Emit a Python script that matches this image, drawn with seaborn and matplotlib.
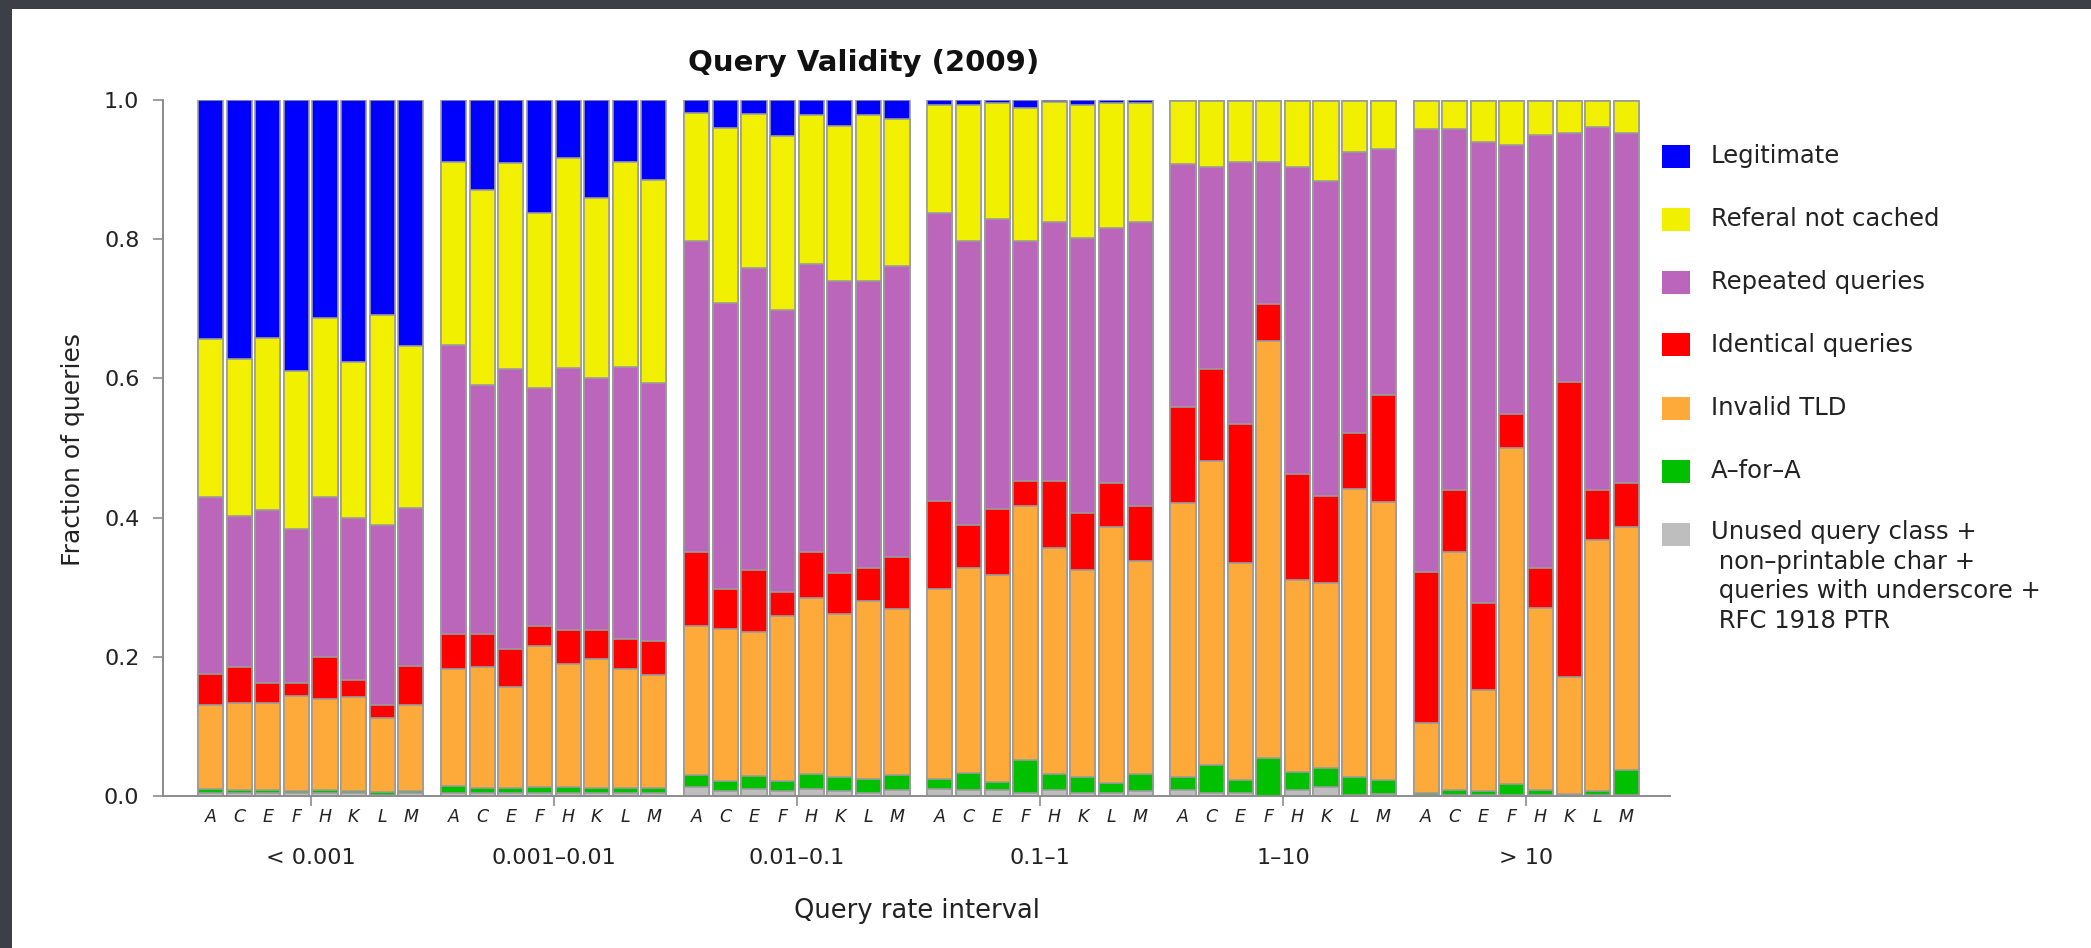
import numpy as np
import pandas as pd
import seaborn as sns
import matplotlib.pyplot as plt
from matplotlib.patches import Rectangle
from matplotlib.transforms import blended_transform_factory


servers = ["A", "C", "E", "F", "H", "K", "L", "M"]
intervals = ["< 0.001", "0.001\u20130.01", "0.01\u20130.1", "0.1\u20131", "1\u201310", "> 10"]

categories = ["Legitimate", "Referal not cached", "Repeated queries", "Identical queries",
              "Invalid TLD", "A\u2013for\u2013A",
              "Unused query class +\n non\u2013printable char +\n queries with underscore +\n RFC 1918 PTR"]
colors = ["#0000ff", "#f0f000", "#bb66bb", "#ff0000", "#fdaa3a", "#00c000", "#bebebe"]

# fraction of each query class, one row per rate interval, one column per root server
legit = [[.344, .372, .342, .389, .313, .376, .309, .354],
         [.089, .130, .090, .162, .084, .141, .089, .115],
         [.019, .040, .020, .052, .022, .038, .022, .027],
         [.007, .007, .005, .011, .003, .007, .005, .005],
         [.001, .001, .001, .001, .001, .001, .001, .001],
         [.001, .001, .001, .001, .001, .001, .001, .001]]
referral = [[.227, .226, .247, .227, .258, .225, .301, .232],
            [.263, .279, .297, .252, .301, .259, .294, .292],
            [.184, .251, .222, .250, .213, .222, .238, .211],
            [.156, .196, .166, .192, .172, .191, .179, .170],
            [.091, .095, .088, .088, .095, .115, .073, .070],
            [.041, .041, .059, .063, .050, .046, .038, .046]]
repeated = [[.254, .216, .248, .221, .229, .232, .259, .227],
            [.415, .358, .402, .342, .377, .362, .391, .371],
            [.447, .412, .433, .405, .415, .420, .412, .418],
            [.413, .407, .417, .344, .372, .395, .367, .408],
            [.349, .290, .377, .204, .441, .453, .404, .353],
            [.636, .519, .663, .387, .621, .358, .521, .504]]
identical = [[.044, .052, .029, .020, .061, .025, .019, .056],
             [.051, .047, .055, .028, .048, .041, .044, .048],
             [.106, .057, .089, .034, .065, .059, .048, .075],
             [.126, .062, .094, .036, .096, .082, .063, .079],
             [.138, .132, .199, .053, .153, .125, .081, .153],
             [.217, .089, .124, .049, .058, .424, .072, .062]]
invalid_tld = [[.121, .126, .126, .136, .130, .135, .106, .124],
               [.167, .174, .144, .203, .177, .185, .170, .162],
               [.214, .218, .207, .237, .254, .233, .255, .239],
               [.273, .295, .298, .365, .325, .298, .367, .306],
               [.394, .437, .312, .600, .275, .266, .413, .400],
               [.100, .342, .146, .483, .262, .168, .361, .350]]
a_for_a = [[.005, .004, .004, .003, .005, .003, .004, .003],
           [.010, .008, .008, .009, .008, .008, .008, .008],
           [.017, .015, .019, .015, .021, .021, .020, .021],
           [.015, .025, .012, .047, .024, .022, .014, .025],
           [.019, .040, .018, .054, .026, .027, .026, .020],
           [.004, .007, .006, .016, .007, .002, .006, .036]]
unused = [[.005, .004, .004, .004, .004, .004, .002, .004],
          [.005, .004, .004, .004, .005, .004, .004, .004],
          [.013, .007, .010, .007, .010, .007, .005, .009],
          [.010, .008, .008, .005, .008, .005, .005, .007],
          [.008, .005, .005, .000, .009, .013, .002, .003],
          [.001, .001, .001, .001, .001, .001, .001, .001]]

GROUP_STEP = 8.5
W, H = 2091, 948

if __name__ == "__main__":
    sns.set_style("white")
    plt.rcParams['font.family'] = ['DejaVu Sans']

    shares = np.array([legit, referral, repeated, identical, invalid_tld, a_for_a, unused], dtype=float)
    shares = shares / shares.sum(axis=0)
    # top of each segment, stacking from the bottom class (unused) upwards
    tops = np.cumsum(shares[::-1], axis=0)[::-1]

    pos = np.array([[g * GROUP_STEP + i for i in range(len(servers))] for g in range(len(intervals))])

    fig = plt.figure(figsize=(W / 100, H / 100), dpi=100)
    fig.patch.set_facecolor("#3c3f45")
    fig.add_artist(Rectangle((12 / W, 0), 1, 939 / H, transform=fig.transFigure,
                             facecolor="white", edgecolor="none", zorder=-1))

    ax = fig.add_axes([163 / W, (H - 796) / H, (1670 - 163) / W, 696 / H])

    for k in range(len(categories)):
        df = pd.DataFrame({"pos": pos.ravel(), "top": tops[k].ravel()})
        sns.barplot(data=df, x="pos", y="top", native_scale=True, width=0.88,
                    color=colors[k], saturation=1, edgecolor="#9c9c9c", linewidth=1.2,
                    errorbar=None, ax=ax)

    ax.set_xlim((163 - 210.6) / 28.6, (1670 - 210.6) / 28.6)
    ax.set_ylim(0, 1)
    ax.set_xlabel("")
    ax.set_ylabel("")

    for s in ["top", "right"]:
        ax.spines[s].set_visible(False)
    for s in ["left", "bottom"]:
        ax.spines[s].set_color("#8c8c8c")
        ax.spines[s].set_linewidth(1.4)

    ax.set_yticks(np.arange(0, 1.01, 0.2))
    ax.set_yticklabels([f"{v:.1f}" for v in np.arange(0, 1.01, 0.2)])
    ax.tick_params(axis="y", length=7, width=1.2, color="#8c8c8c", pad=10,
                   labelsize=16, labelcolor="#222222", left=True)

    ax.set_xticks(pos.ravel())
    ax.set_xticklabels(servers * len(intervals), fontstyle="italic")
    ax.tick_params(axis="x", which="major", length=0, pad=9, labelsize=12.5, labelcolor="#222222")
    ax.set_xticks(pos.mean(axis=1), minor=True)
    ax.tick_params(axis="x", which="minor", length=7, width=1.2, color="#8c8c8c", bottom=True)

    trans = blended_transform_factory(ax.transData, ax.transAxes)
    for g, name in enumerate(intervals):
        ax.text(pos[g].mean(), -62 / 696, name, transform=trans, ha="center", va="center",
                fontsize=16, color="#222222")

    fig.text(864 / W, 1 - 63 / H, "Query Validity (2009)", ha="center", va="center",
             fontsize=21, fontweight="bold", color="#111111")
    fig.text(917 / W, 1 - 911 / H, "Query rate interval", ha="center", va="center",
             fontsize=18.5, color="#222222")
    fig.text(73 / W, 1 - 449 / H, "Fraction of queries", ha="center", va="center",
             rotation=90, fontsize=18, color="#222222")

    # legend
    for k, (name, c) in enumerate(zip(categories, colors)):
        yc = 156 + 63 * k
        fig.add_artist(Rectangle((1662 / W, 1 - (yc + 11.5) / H), 28 / W, 23 / H,
                                 transform=fig.transFigure, facecolor=c, edgecolor="none"))
        if "\n" in name:
            fig.text(1711 / W, 1 - (yc - 14) / H, name, ha="left", va="top",
                     fontsize=17.5, color="#222222", linespacing=1.3)
        else:
            fig.text(1711 / W, 1 - yc / H, name, ha="left", va="center",
                     fontsize=17.5, color="#222222")

    plt.savefig("out.png", dpi=100)
